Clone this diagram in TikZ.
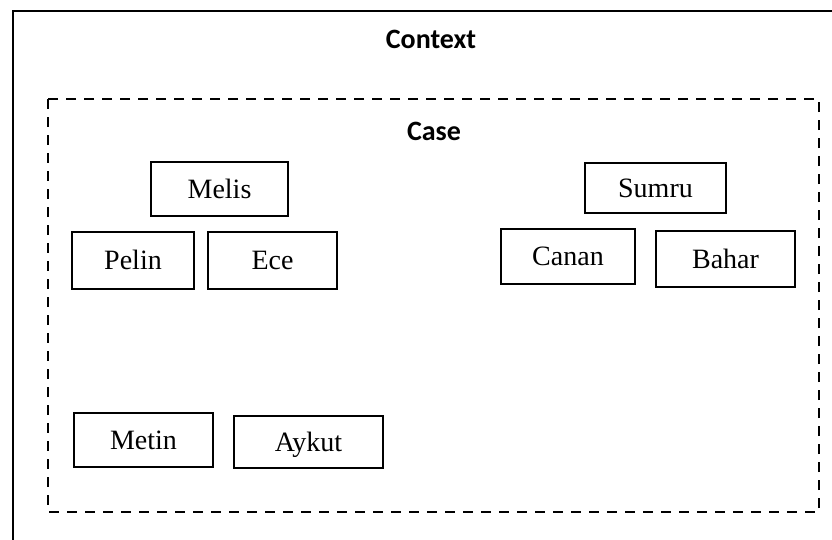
\documentclass[tikz,border=0pt]{standalone}
\usepackage{fontspec}
\setmainfont{Liberation Serif}
\newfontfamily\headfont{Carlito}

\begin{document}
\begin{tikzpicture}[x=1pt, y=-1pt,
    person/.style={draw=black, line width=2pt, inner sep=0pt, text height=18.5pt, text depth=0pt, font=\fontsize{28}{32}\selectfont},
    heading/.style={anchor=base, inner sep=0pt, font=\headfont\bfseries\fontsize{28}{32}\selectfont}]
    \useasboundingbox (0,0) rectangle (832,539);

    % outer frame and case frame
    \draw[line width=2.2pt] (850,11) -- (13,11) -- (13,560);
    \draw[line width=1.8pt, dash pattern=on 10pt off 8pt] (48,99) rectangle (819,512);

    \node[heading](context) at (431,48){Context};
    \node[heading](case) at (434,140){Case};

    \node[person, minimum width=137pt, minimum height=54pt](melis) at (219.5,189.0){Melis};
    \node[person, minimum width=122pt, minimum height=57pt](pelin) at (133.0,260.5){Pelin};
    \node[person, minimum width=129pt, minimum height=57pt](ece) at (272.5,260.5){Ece};

    \node[person, minimum width=141pt, minimum height=50pt](sumru) at (655.5,188.0){Sumru};
    \node[person, minimum width=134pt, minimum height=55pt](canan) at (568.0,256.5){Canan};
    \node[person, minimum width=139pt, minimum height=56pt](bahar) at (725.5,259.0){Bahar};

    \node[person, minimum width=139pt, minimum height=54pt](metin) at (143.5,440.0){Metin};
    \node[person, minimum width=149pt, minimum height=52pt](aykut) at (308.5,442.0){Aykut};
\end{tikzpicture}
\end{document}
